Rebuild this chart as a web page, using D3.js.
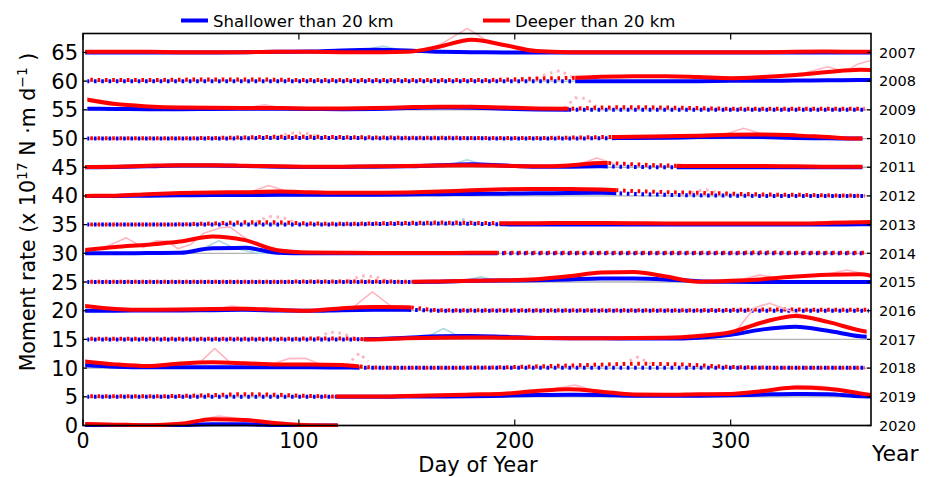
<!DOCTYPE html>
<html><head><meta charset="utf-8">
<script src="https://cdn.jsdelivr.net/npm/d3@7/dist/d3.min.js"></script>
<style>body{margin:0;background:#fff}svg{display:block;font-family:"DejaVu Sans",sans-serif}</style>
</head><body><svg id="c" width="932" height="477"></svg>
<script>
// ---------------- DATA ----------------
const years = [2007,2008,2009,2010,2011,2012,2013,2014,2015,2016,2017,2018,2019,2020];
const dayTicks = [0,100,200,300];
const rateTicks = [0,5,10,15,20,25,30,35,40,45,50,55,60,65];
const days = [0,15,30,45,60,75,90,105,120,135,150,165,180,195,210,225,240,255,270,285,300,315,330,345,360,365];

// smoothed moment rate (x1e17 N·m/d) per year, shallow (<20 km) and deep (>20 km)
const shallow2007 = [0,0,0,0,0,0.05,0.1,0.15,0.35,0.45,0.35,0.1,0.05,0,0,0,0,0,0,0,0,0,0,0,0,0];
const deep2007    = [0.1,0.1,0.1,0.05,0.05,0.05,0.1,0.1,0.05,0.05,0.1,1.0,2.2,1.3,0.25,0.05,0.05,0.05,0.05,0.05,0.05,0.05,0.1,0.15,0.1,0.1];
const shallow2008 = [0,0,0,0,0,0,0,0,0,0,0,0,0,0,0,0,0,0,0,0,0.05,0.05,0.1,0.15,0.2,0.2];
const deep2008    = [0.25,0.2,0.2,0.25,0.3,0.3,0.25,0.2,0.2,0.2,0.2,0.2,0.2,0.25,0.45,0.55,0.75,0.85,0.85,0.7,0.5,0.7,1.05,1.6,2.0,1.95];
const shallow2009 = [0.2,0.15,0.1,0.1,0.15,0.2,0.2,0.15,0.1,0.15,0.3,0.4,0.35,0.2,0.05,0,0,0,0,0,0,0,0,0,0,0];
const deep2009    = [1.9,1.0,0.6,0.4,0.35,0.3,0.3,0.25,0.25,0.3,0.45,0.55,0.55,0.4,0.25,0.2,0.4,0.45,0.4,0.3,0.2,0.2,0.2,0.2,0.2,0.2];
const shallow2010 = [0,0,0,0,0,0.05,0.1,0.1,0.1,0.05,0.05,0.05,0.05,0,0,0,0.05,0.1,0.15,0.25,0.3,0.25,0.1,0.05,0,0];
const deep2010    = [0.05,0.05,0.05,0.05,0.1,0.2,0.3,0.3,0.25,0.2,0.15,0.15,0.1,0.1,0.1,0.15,0.25,0.3,0.4,0.5,0.65,0.7,0.55,0.25,0,0];
const shallow2011 = [0,0.05,0.15,0.3,0.3,0.2,0.1,0.05,0.05,0.1,0.15,0.35,0.5,0.3,0.1,0.1,0.15,0.05,0,0,0,0,0,0,0,0];
const deep2011    = [0.05,0.1,0.25,0.35,0.35,0.25,0.15,0.1,0.1,0.15,0.2,0.3,0.35,0.25,0.15,0.3,0.75,0.5,0.3,0.2,0.2,0.2,0.15,0.1,0.1,0.1];
const shallow2012 = [0,0,0.05,0.1,0.15,0.15,0.2,0.2,0.2,0.2,0.25,0.3,0.35,0.4,0.45,0.5,0.55,0.35,0.2,0.1,0.05,0,0,0,0,0];
const deep2012    = [0,0.05,0.3,0.5,0.6,0.65,0.75,0.65,0.55,0.55,0.6,0.75,1.0,1.15,1.2,1.2,1.1,0.85,0.65,0.55,0.4,0.25,0.2,0.1,0.05,0.05];
const shallow2013 = [0,0,0,0,0,0,0,0,0.05,0.1,0.15,0.2,0.15,0.05,0,0,0,0,0,0,0,0,0,0,0.05,0.05];
const deep2013    = [0,0,0,0.05,0.2,0.4,0.4,0.2,0.15,0.2,0.3,0.35,0.3,0.25,0.25,0.3,0.3,0.25,0.2,0.2,0.2,0.2,0.2,0.3,0.4,0.45];
const shallow2014 = [0,0,0.05,0.1,0.9,0.95,0.1,0,0,0,0,0,0,0,0,0,0,0,0,0,0,0,0,0,0,0];
const deep2014    = [0.55,1.1,1.5,2.05,2.95,2.3,0.55,0.15,0.1,0.05,0.05,0.05,0.1,0.1,0.1,0.1,0.1,0.1,0.1,0.1,0.1,0.15,0.1,0.1,0.1,0.1];
const shallow2015 = [0,0,0,0,0,0,0,0,0,0,0,0.05,0.2,0.25,0.3,0.45,0.6,0.6,0.45,0.15,0.05,0,0,0,0,0];
const deep2015    = [0.05,0.05,0.05,0.05,0.05,0.05,0.05,0.1,0.1,0.1,0.05,0.1,0.2,0.3,0.5,1.0,1.65,1.75,0.95,0.05,0.2,0.5,0.95,1.25,1.35,1.1];
const shallow2016 = [0,0,0.05,0.05,0.1,0.15,0.05,0,0.1,0.15,0.15,0,0,0,0,0,0,0,0,0,0,0,0,0,0,0];
const deep2016    = [0.85,0.3,0.15,0.2,0.3,0.35,0.15,0,0.45,0.65,0.6,0.1,0.1,0.1,0.1,0.1,0.1,0.1,0.1,0.1,0.15,0.2,0.2,0.15,0.15,0.15];
const shallow2017 = [0,0,0,0,0,0,0,0,0,0.05,0.3,0.55,0.6,0.45,0.25,0.2,0.2,0.15,0.15,0.3,0.8,1.75,2.2,1.5,0.55,0.4];
const deep2017    = [0.1,0.1,0.1,0.1,0.1,0.1,0.1,0.15,0.15,0,0.2,0.3,0.35,0.3,0.25,0.2,0.2,0.25,0.3,0.6,1.25,3.0,4.1,3.05,1.55,1.2];
const shallow2018 = [0.5,0.25,0.15,0.15,0.15,0.15,0.15,0.15,0.1,0.05,0.05,0.05,0.05,0.05,0.05,0.05,0.05,0.05,0.05,0.05,0.05,0.05,0.05,0.05,0.05,0.05];
const deep2018    = [1.2,0.65,0.35,0.8,1.0,0.85,0.65,0.65,0.55,0.1,0.05,0.05,0.1,0.15,0.3,0.45,0.6,0.75,0.7,0.5,0.2,0.1,0.05,0.05,0.05,0.05];
const shallow2019 = [0,0,0,0,0,0,0,0,0,0,0.05,0.05,0.1,0.2,0.3,0.35,0.3,0.2,0.2,0.2,0.25,0.4,0.5,0.45,0.1,0.05];
const deep2019    = [0.1,0.1,0.1,0.15,0.3,0.45,0.35,0.15,0.05,0.05,0.15,0.25,0.4,0.55,1.0,1.3,0.9,0.4,0.35,0.45,0.5,1.0,1.6,1.4,0.6,0.3];
const shallow2020 = [0.05,0,0,0.05,0.2,0.2,0.05,0,0,null,null,null,null,null,null,null,null,null,null,null,null,null,null,null,null,null];
const deep2020    = [0.25,0.15,0.05,0.3,1.1,0.95,0.4,0.05,0,null,null,null,null,null,null,null,null,null,null,null,null,null,null,null,null,null];

// day ranges with continuous data (solid) and with sparse data (dotted)
const solid2007 = [[1,365]];            const dotted2007 = [];
const solid2008 = [[228,365]];          const dotted2008 = [[2,228]];
const solid2009 = [[2,225]];            const dotted2009 = [[225,362]];
const solid2010 = [[245,361]];          const dotted2010 = [[2,245]];
const solid2011 = [[1,243],[275,361]];  const dotted2011 = [[243,275]];
const solid2012 = [[1,247]];            const dotted2012 = [[247,362]];
const solid2013 = [[193,365]];          const dotted2013 = [[2,193]];
const solid2014 = [[1,192]];            const dotted2014 = [[192,362]];
const solid2015 = [[153,365]];          const dotted2015 = [[2,153]];
const solid2016 = [[1,152]];            const dotted2016 = [[152,364]];
const solid2017 = [[130,363]];          const dotted2017 = [[2,130]];
const solid2018 = [[1,128]];            const dotted2018 = [[128,362]];
const solid2019 = [[117,365]];          const dotted2019 = [[2,117]];
const solid2020 = [[1,118]];            const dotted2020 = [];

// raw (unsmoothed) excursions [day, rate]
const shallowRaw2007 = [[[131,0.5],[139,1.1],[147,0.4]]];
const deepRaw2007 = [[[160,0.6],[166,1.5],[178,4.2],[186,2.3],[194,1.4]]];
const deepRaw2008 = [[[210,0.45],[215,1.25],[221,1.85],[227,0.6]],[[325,1.0],[335,1.5],[345,2.5],[353,1.65],[359,3.0],[365,3.6]]];
const deepRaw2009 = [[[76,0.35],[84,0.9],[92,0.35]],[[223,0.3],[228,2.1],[233,2.0],[238,0.5]]];
const deepRaw2010 = [[[90,0.3],[96,0.95],[103,0.95],[109,0.3]],[[297,0.7],[306,1.8],[315,0.75]]];
const shallowRaw2011 = [[[170,0.4],[178,1.3],[186,0.4]]];
const deepRaw2011 = [[[230,0.5],[238,1.6],[246,0.6]]];
const deepRaw2012 = [[[78,0.75],[86,1.8],[95,0.75]],[[282,0.55],[288,1.15],[295,0.5]]];
const shallowRaw2013 = [[[169,0.2],[176,0.9],[183,0.15]]];
const deepRaw2013 = [[[80,0.45],[86,1.4],[92,1.3],[98,0.4]]];
const shallowRaw2014 = [[[45,0.1],[50,0.3],[57,1.1],[63,2.2],[70,0.9],[81,0],[90,0]]];
const deepRaw2014 = [[[10,1.0],[20,2.7],[28,1.0],[34,2.2],[39,2.1],[44,0.8],[50,1.6],[56,3.5],[64,4.5],[68,4.6],[73,3.2],[78,2.0]]];
const shallowRaw2015 = [[[176,0.15],[184,0.9],[192,0.25]]];
const deepRaw2015 = [[[123,0.2],[129,1.1],[135,0.95],[141,0.2]],[[303,0.25],[313,1.2],[322,0.75]],[[343,1.2],[354,2.1],[364,1.2]]];
const deepRaw2016 = [[[62,0.3],[69,0.8],[76,0.4]],[[125,0.55],[134,3.3],[143,0.7]]];
const shallowRaw2017 = [[[160,0.55],[167,1.9],[174,0.55]]];
const deepRaw2017 = [[[109,0.2],[114,1.3],[120,1.05],[126,0.2]],[[303,1.7],[311,5.5],[318,6.3],[326,5.2],[334,4.0]]];
const deepRaw2018 = [[[54,0.9],[61,3.45],[68,1.0]],[[88,0.7],[95,1.65],[103,1.7],[110,0.65]],[[122,0.5],[128,2.6],[132,1.1]],[[250,0.8],[257,1.9],[263,0.8]]];
const deepRaw2019 = [[[214,1.1],[228,2.05],[236,1.2]],[[322,1.4],[331,1.95],[342,1.85],[350,1.3]]];
const deepRaw2020 = [[[52,0.8],[63,1.65],[72,1.2]]];

const shallowSeries = [shallow2007,shallow2008,shallow2009,shallow2010,shallow2011,shallow2012,shallow2013,shallow2014,shallow2015,shallow2016,shallow2017,shallow2018,shallow2019,shallow2020];
const deepSeries = [deep2007,deep2008,deep2009,deep2010,deep2011,deep2012,deep2013,deep2014,deep2015,deep2016,deep2017,deep2018,deep2019,deep2020];
const solidRanges = [solid2007,solid2008,solid2009,solid2010,solid2011,solid2012,solid2013,solid2014,solid2015,solid2016,solid2017,solid2018,solid2019,solid2020];
const dottedRanges = [dotted2007,dotted2008,dotted2009,dotted2010,dotted2011,dotted2012,dotted2013,dotted2014,dotted2015,dotted2016,dotted2017,dotted2018,dotted2019,dotted2020];
const shallowRaw = {2007:shallowRaw2007,2011:shallowRaw2011,2013:shallowRaw2013,2014:shallowRaw2014,2015:shallowRaw2015,2017:shallowRaw2017};
const deepRaw = {2007:deepRaw2007,2008:deepRaw2008,2009:deepRaw2009,2010:deepRaw2010,2011:deepRaw2011,2012:deepRaw2012,2013:deepRaw2013,2014:deepRaw2014,2015:deepRaw2015,2016:deepRaw2016,2017:deepRaw2017,2018:deepRaw2018,2019:deepRaw2019,2020:deepRaw2020};

// ---------------- DRAW ----------------
const L=83, R=871, T=33.5, B=425.5;
const x = d3.scaleLinear().domain([0,365]).range([L,R]);
const y = d3.scaleLinear().domain([0,68.3]).range([B,T]);
const svg = d3.select("#c");
const defs = svg.append("defs");
const BLUE="#0000ff", RED="#ff0000", PINK="#ffb6c1", LBLUE="#add8e6";
const DASH="2.6,4.7";

const offsetOf = yr => (2020-yr)*5;

// baselines
svg.append("g").selectAll("line").data(years).join("line")
  .attr("x1",L).attr("x2",R).attr("y1",d=>y(offsetOf(d))).attr("y2",d=>y(offsetOf(d)))
  .attr("stroke","#b3b3b3").attr("stroke-width",1.3);

const smooth = d3.line().defined(d=>d[1]!=null).x(d=>x(d[0])).y(d=>y(d[1])).curve(d3.curveMonotoneX);
const straight = d3.line().x(d=>x(d[0])).y(d=>y(d[1]));

let clipId=0;
function clipFor(r){
  const id="cl"+(clipId++);
  defs.append("clipPath").attr("id",id).append("rect")
    .attr("x",x(r[0])).attr("width",x(r[1])-x(r[0])).attr("y",0).attr("height",B+1.5);
  return "url(#"+id+")";
}
const inRanges = (d,rs)=>rs.some(r=>d>=r[0]&&d<=r[1]);

const g = svg.append("g");
years.forEach((yr,i)=>{
  const off = offsetOf(yr);
  const sPts = days.map((d,k)=>[d, shallowSeries[i][k]==null?null:shallowSeries[i][k]+off]);
  const dPts = days.map((d,k)=>[d, deepSeries[i][k]==null?null:deepSeries[i][k]+off]);
  const gy = g.append("g");
  // raw excursions
  [[shallowRaw[yr],LBLUE],[deepRaw[yr],PINK]].forEach(([sp,col])=>{
    if(!sp) return;
    sp.forEach(s=>{
      const mid = s[Math.floor(s.length/2)][0];
      const dotted = inRanges(mid, dottedRanges[i]);
      gy.append("path").attr("d",straight(s.map(p=>[p[0],p[1]+off])))
        .attr("fill","none").attr("stroke",col)
        .attr("stroke-width",dotted?3:1.6)
        .attr("stroke-dasharray",dotted?DASH:null)
        .attr("stroke-linejoin","round");
    });
  });
  solidRanges[i].forEach(r=>{
    const cp = clipFor(r);
    gy.append("path").attr("d",smooth(sPts)).attr("clip-path",cp)
      .attr("fill","none").attr("stroke",BLUE).attr("stroke-width",4);
    gy.append("path").attr("d",smooth(dPts)).attr("clip-path",cp)
      .attr("fill","none").attr("stroke",RED).attr("stroke-width",4);
  });
  dottedRanges[i].forEach(r=>{
    const cp = clipFor(r);
    gy.append("path").attr("d",smooth(sPts)).attr("clip-path",cp)
      .attr("fill","none").attr("stroke",BLUE).attr("stroke-width",4)
      .attr("stroke-dasharray",DASH).attr("stroke-dashoffset",3.65);
    gy.append("path").attr("d",smooth(dPts)).attr("clip-path",cp)
      .attr("fill","none").attr("stroke",RED).attr("stroke-width",4)
      .attr("stroke-dasharray",DASH);
  });
});

// frame
svg.append("rect").attr("x",L).attr("y",T).attr("width",R-L).attr("height",B-T)
  .attr("fill","none").attr("stroke","#000").attr("stroke-width",1.6);

// left axis ticks + labels
const ax = svg.append("g");
rateTicks.forEach(v=>{
  ax.append("line").attr("x1",L).attr("x2",L+4).attr("y1",y(v)).attr("y2",y(v)).attr("stroke","#000").attr("stroke-width",1.2);
  ax.append("text").attr("x",L-5).attr("y",y(v)).attr("dy","0.36em").attr("text-anchor","end")
    .attr("font-size",21).text(v);
});
// right year ticks + labels
years.forEach(yr=>{
  const v=offsetOf(yr);
  ax.append("line").attr("x1",R-4).attr("x2",R).attr("y1",y(v)).attr("y2",y(v)).attr("stroke","#000").attr("stroke-width",1.2);
  ax.append("text").attr("x",879).attr("y",y(v)).attr("dy","0.36em").attr("font-size",14.5).text(yr);
});
// bottom/top ticks
dayTicks.forEach(d=>{
  ax.append("line").attr("x1",x(d)).attr("x2",x(d)).attr("y1",B).attr("y2",B-6).attr("stroke","#000").attr("stroke-width",1.2);
  ax.append("line").attr("x1",x(d)).attr("x2",x(d)).attr("y1",T).attr("y2",T+6).attr("stroke","#000").attr("stroke-width",1.2);
  ax.append("text").attr("x",x(d)).attr("y",447.5).attr("text-anchor","middle").attr("font-size",20.5).text(d);
});

// axis labels
svg.append("text").attr("x",478).attr("y",472).attr("text-anchor","middle").attr("font-size",21).text("Day of Year");
svg.append("text").attr("x",872).attr("y",461).attr("font-size",22).text("Year");
const yl = svg.append("text").attr("transform","translate(35,212) rotate(-90)").attr("text-anchor","middle").attr("font-size",20.5);
yl.append("tspan").text("Moment rate (x 10");
yl.append("tspan").attr("dy",-8).attr("font-size",14).text("17");
yl.append("tspan").attr("dy",8).text(" N \u00B7m d");
yl.append("tspan").attr("dy",-8).attr("font-size",14).text("\u22121");
yl.append("tspan").attr("dy",8).text(" )");

// legend
const lg = svg.append("g");
[["Shallower than 20 km",BLUE,181],["Deeper than 20 km",RED,483]].forEach(([t,c,x0])=>{
  lg.append("line").attr("x1",x0).attr("x2",x0+27).attr("y1",20.5).attr("y2",20.5).attr("stroke",c).attr("stroke-width",4);
  lg.append("text").attr("x",x0+32).attr("y",26.5).attr("font-size",16.5).text(t);
});
</script></body></html>
